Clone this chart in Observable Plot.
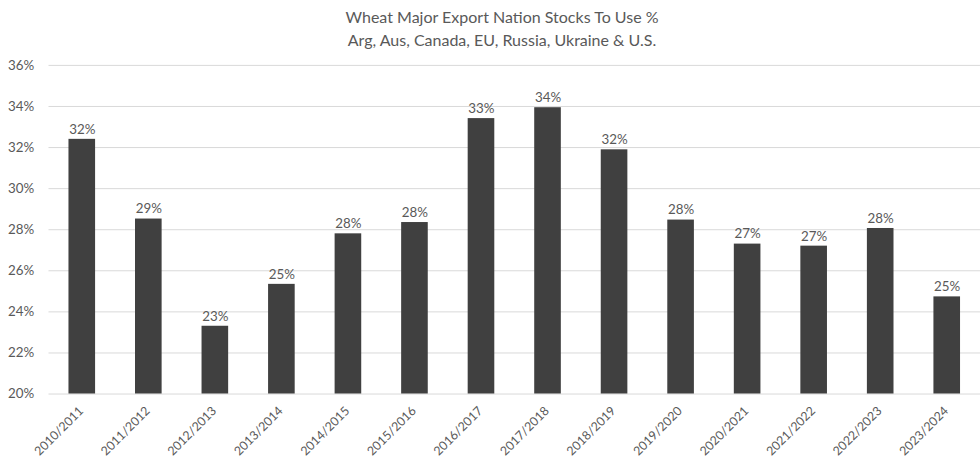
<!DOCTYPE html>
<html>
<head>
<meta charset="utf-8">
<script src="https://cdn.jsdelivr.net/npm/d3@7"></script>
<script src="https://cdn.jsdelivr.net/npm/@observablehq/plot@0.6"></script>
<style>
  html, body { margin: 0; padding: 0; background: #fff; overflow: hidden; }
  body { width: 980px; height: 463px; font-family: Lato, "Open Sans", sans-serif; }
  #title { box-sizing: border-box; width: 980px; height: 55px; padding-left: 24px; padding-top: 5px;
           text-align: center; color: #595959; font-size: 16px; line-height: 23px; }
  #chart svg { display: block; overflow: hidden; }
</style>
</head>
<body>
<div id="title">Wheat Major Export Nation Stocks To Use %<br>Arg, Aus, Canada, EU, Russia, Ukraine &amp; U.S.</div>
<div id="chart"></div>
<script>
const years = ["2010/2011","2011/2012","2012/2013","2013/2014","2014/2015","2015/2016","2016/2017",
               "2017/2018","2018/2019","2019/2020","2020/2021","2021/2022","2022/2023","2023/2024"];
const stocksToUse = [32.4, 28.52, 23.3, 25.34, 27.8, 28.35, 33.41, 33.94, 31.89, 28.47, 27.3, 27.2, 28.06, 24.73];
const yTicks = [20, 22, 24, 26, 28, 30, 32, 34, 36];

const data = years.map((y, i) => ({year: y, value: stocksToUse[i]}));

const chart = Plot.plot({
  width: 990,
  height: 408,
  marginLeft: 49,
  marginRight: 0,
  marginTop: 10,
  marginBottom: 66,
  style: {fontFamily: "Lato, 'Open Sans', sans-serif", fontSize: "13.5px", color: "#595959", background: "#fff"},
  x: {domain: years, paddingInner: 0.6, paddingOuter: 0.3, round: false, label: null},
  y: {domain: [20, 36], label: null},
  marks: [
    Plot.ruleY(yTicks, {stroke: "#d9d9d9", strokeWidth: 1}),
    Plot.barY(data, {x: "year", y: "value", fill: "#404040", clip: true}),
    Plot.text(data, {x: "year", y: "value", text: d => Math.round(d.value) + "%", dy: -10, fill: "#595959", fontSize: 13.5}),
    Plot.axisY({ticks: yTicks, tickFormat: d => d + "%", tickSize: 0, tickPadding: 15, fill: "#595959", label: null}),
    Plot.axisX({tickRotate: -45, tickSize: 0, tickPadding: 15, dx: -1, fontSize: 12.5, fill: "#595959", label: null})
  ]
});
document.getElementById("chart").appendChild(chart);
</script>
</body>
</html>
